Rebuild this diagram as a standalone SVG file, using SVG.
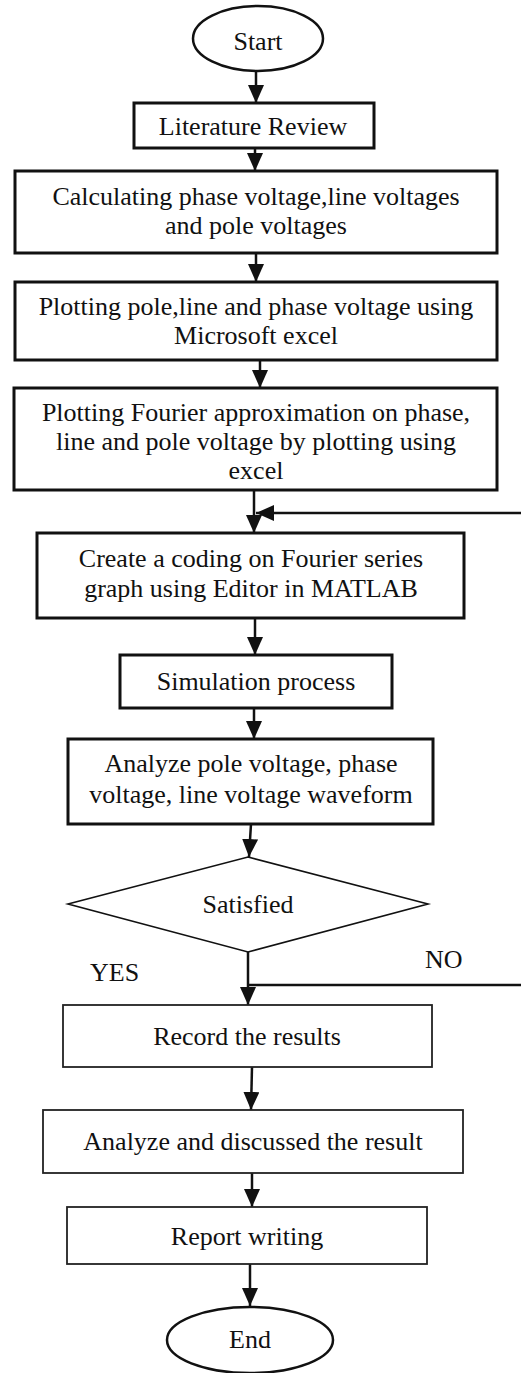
<svg xmlns="http://www.w3.org/2000/svg" width="521" height="1373" viewBox="0 0 521 1373">
  <style>
    .bg { fill: #ffffff; }
    .box { fill: #ffffff; stroke: #111111; stroke-width: 3; }
    .box-thin { fill: #ffffff; stroke: #222222; stroke-width: 1.8; }
    .term { fill: #ffffff; stroke: #111111; stroke-width: 2.5; }
    .dec { fill: #ffffff; stroke: #111111; stroke-width: 1.6; }
    .label { font-family: "Liberation Serif", "Times New Roman", serif; font-size: 26px; fill: #111111; text-anchor: middle; }
    .tag { font-family: "Liberation Serif", "Times New Roman", serif; font-size: 26px; fill: #111111; }
    .flow { fill: none; stroke: #111111; stroke-width: 2.5; }
  </style>
  <defs>
    <marker id="head" markerUnits="userSpaceOnUse" markerWidth="19" markerHeight="16" refX="18" refY="8" orient="auto">
      <path d="M0,0 L18,8 L0,16 z" fill="#111111"/>
    </marker>
  </defs>

  <rect class="bg" x="0" y="0" width="521" height="1373"/>

  <!-- connectors -->
  <g id="connectors">
    <line class="flow" x1="256" y1="71" x2="256" y2="103" marker-end="url(#head)"/>
    <line class="flow" x1="255" y1="148" x2="255" y2="171" marker-end="url(#head)"/>
    <line class="flow" x1="256" y1="253" x2="256" y2="282" marker-end="url(#head)"/>
    <line class="flow" x1="260" y1="360" x2="260" y2="388" marker-end="url(#head)"/>
    <line class="flow" x1="254" y1="490" x2="254" y2="533" marker-end="url(#head)"/>
    <line class="flow" x1="521" y1="513" x2="256" y2="513" marker-end="url(#head)"/>
    <line class="flow" x1="255" y1="618" x2="255" y2="655" marker-end="url(#head)"/>
    <line class="flow" x1="254" y1="708" x2="254" y2="739" marker-end="url(#head)"/>
    <line class="flow" x1="251" y1="824" x2="249" y2="857" marker-end="url(#head)"/>
    <line class="flow" x1="248" y1="952" x2="248" y2="1005" marker-end="url(#head)"/>
    <line class="flow" x1="248" y1="985" x2="521" y2="985"/>
    <line class="flow" x1="252" y1="1067" x2="251" y2="1110" marker-end="url(#head)"/>
    <line class="flow" x1="252" y1="1173" x2="252" y2="1207" marker-end="url(#head)"/>
    <line class="flow" x1="250" y1="1264" x2="250" y2="1306" marker-end="url(#head)"/>
  </g>

  <g id="start">
    <ellipse class="term" cx="258" cy="38.5" rx="65" ry="32.5"/>
    <text class="label" x="258" y="50">Start</text>
  </g>

  <g id="literature-review">
    <rect class="box" x="134" y="103" width="240" height="45"/>
    <text class="label" x="253" y="135">Literature Review</text>
  </g>

  <g id="calculating">
    <rect class="box" x="15" y="171" width="482" height="82"/>
    <text class="label" x="256" y="205">Calculating phase voltage,line voltages</text>
    <text class="label" x="256" y="234">and pole voltages</text>
  </g>

  <g id="plotting-excel">
    <rect class="box" x="15" y="282" width="482" height="78"/>
    <text class="label" x="256" y="315">Plotting pole,line and phase voltage using</text>
    <text class="label" x="256" y="344">Microsoft excel</text>
  </g>

  <g id="plotting-fourier">
    <rect class="box" x="14" y="388" width="483" height="102"/>
    <text class="label" x="256" y="421">Plotting Fourier approximation on phase,</text>
    <text class="label" x="256" y="450">line and pole voltage by plotting using</text>
    <text class="label" x="256" y="479">excel</text>
  </g>

  <g id="matlab-coding">
    <rect class="box" x="37" y="533" width="427" height="85"/>
    <text class="label" x="251" y="567">Create a coding on Fourier series</text>
    <text class="label" x="251" y="597">graph using Editor in MATLAB</text>
  </g>

  <g id="simulation">
    <rect class="box" x="120" y="655" width="272" height="53"/>
    <text class="label" x="256" y="690">Simulation process</text>
  </g>

  <g id="analyze-waveform">
    <rect class="box" x="68" y="739" width="365" height="85"/>
    <text class="label" x="251" y="772">Analyze pole voltage, phase</text>
    <text class="label" x="251" y="803">voltage, line voltage waveform</text>
  </g>

  <g id="satisfied">
    <polygon class="dec" points="248,857 428,904 248,952 68,904"/>
    <text class="label" x="248" y="913">Satisfied</text>
  </g>

  <g id="branch-labels">
    <text class="tag" x="90" y="981">YES</text>
    <text class="tag" x="425" y="968">NO</text>
  </g>

  <g id="record">
    <rect class="box-thin" x="63" y="1005" width="369" height="62"/>
    <text class="label" x="247" y="1045">Record the results</text>
  </g>

  <g id="discuss">
    <rect class="box-thin" x="43" y="1110" width="420" height="63"/>
    <text class="label" x="253" y="1150">Analyze and discussed the result</text>
  </g>

  <g id="report">
    <rect class="box-thin" x="67" y="1207" width="360" height="57"/>
    <text class="label" x="247" y="1245">Report writing</text>
  </g>

  <g id="end">
    <ellipse class="term" cx="250" cy="1340" rx="83" ry="33"/>
    <text class="label" x="250" y="1348">End</text>
  </g>
</svg>
